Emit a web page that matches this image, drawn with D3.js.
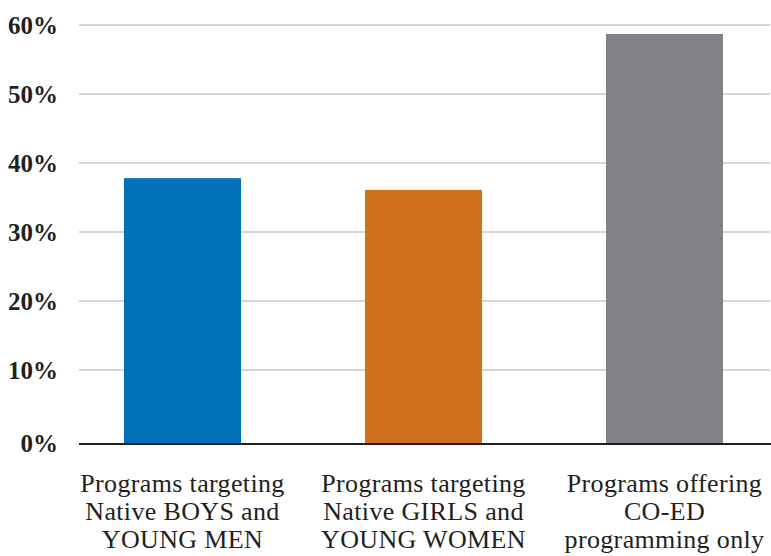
<!DOCTYPE html>
<html>
<head>
<meta charset="utf-8">
<script src="https://cdn.jsdelivr.net/npm/d3@7"></script>
<style>
  html, body { margin: 0; padding: 0; background: #fff; }
  svg { display: block; }
</style>
</head>
<body>
<svg id="chart" width="771" height="556"></svg>
<script>
// Share of programs by gender focus (percent)
const categories = [
  ["Programs targeting", "Native BOYS and", "YOUNG MEN"],
  ["Programs targeting", "Native GIRLS and", "YOUNG WOMEN"],
  ["Programs offering", "CO-ED", "programming only"]
];
const values = [37.8, 36.1, 58.7];
const barColors = ["#0070b8", "#d0701e", "#808285"];
const tickValues = [0, 10, 20, 30, 40, 50, 60];
const tickLabels = ["0%", "10%", "20%", "30%", "40%", "50%", "60%"];

const svg = d3.select("#chart");
const ink = "#231f20";
const serif = "'Liberation Serif', 'Times New Roman', serif";

const plotLeft = 79, plotRight = 770;
const baseline = 444;

const y = d3.scaleLinear().domain([0, 60]).range([439, 25]);

const keys = categories.map((c, i) => i);
const x = d3.scaleBand()
  .domain(keys)
  .range([62, 785])
  .paddingInner(0.5145)
  .paddingOuter(0.5145 / 2);

// horizontal gridlines (the zero line is the heavier baseline)
svg.append("g")
  .selectAll("line")
  .data(tickValues.filter(v => v > 0))
  .join("line")
  .attr("x1", plotLeft)
  .attr("x2", plotRight)
  .attr("y1", d => y(d))
  .attr("y2", d => y(d))
  .attr("stroke", "#c8c8c8")
  .attr("stroke-width", 1.5);

// bars
svg.append("g")
  .selectAll("rect")
  .data(values)
  .join("rect")
  .attr("x", (d, i) => x(i))
  .attr("width", x.bandwidth())
  .attr("y", d => y(d))
  .attr("height", d => baseline - y(d))
  .attr("fill", (d, i) => barColors[i]);

// baseline
svg.append("line")
  .attr("x1", plotLeft)
  .attr("x2", 771)
  .attr("y1", baseline)
  .attr("y2", baseline)
  .attr("stroke", ink)
  .attr("stroke-width", 2.2);

// y tick labels
svg.append("g")
  .selectAll("text")
  .data(tickValues)
  .join("text")
  .attr("x", 58)
  .attr("y", d => (d === 0 ? baseline - 1 : y(d)))
  .attr("dy", "0.35em")
  .attr("text-anchor", "end")
  .attr("font-family", serif)
  .attr("font-weight", "bold")
  .attr("font-size", 25)
  .attr("fill", ink)
  .text((d, i) => tickLabels[i]);

// category labels
const labels = svg.append("g")
  .selectAll("text")
  .data(categories)
  .join("text")
  .attr("x", (d, i) => x(i) + x.bandwidth() / 2)
  .attr("y", 492)
  .attr("text-anchor", "middle")
  .attr("font-family", serif)
  .attr("font-size", 26)
  .attr("letter-spacing", 0.35)
  .attr("fill", ink);

labels.selectAll("tspan")
  .data(d => d)
  .join("tspan")
  .attr("x", function () { return d3.select(this.parentNode).attr("x"); })
  .attr("dy", (d, i) => (i === 0 ? 0 : 28))
  .text(d => d);
</script>
</body>
</html>
